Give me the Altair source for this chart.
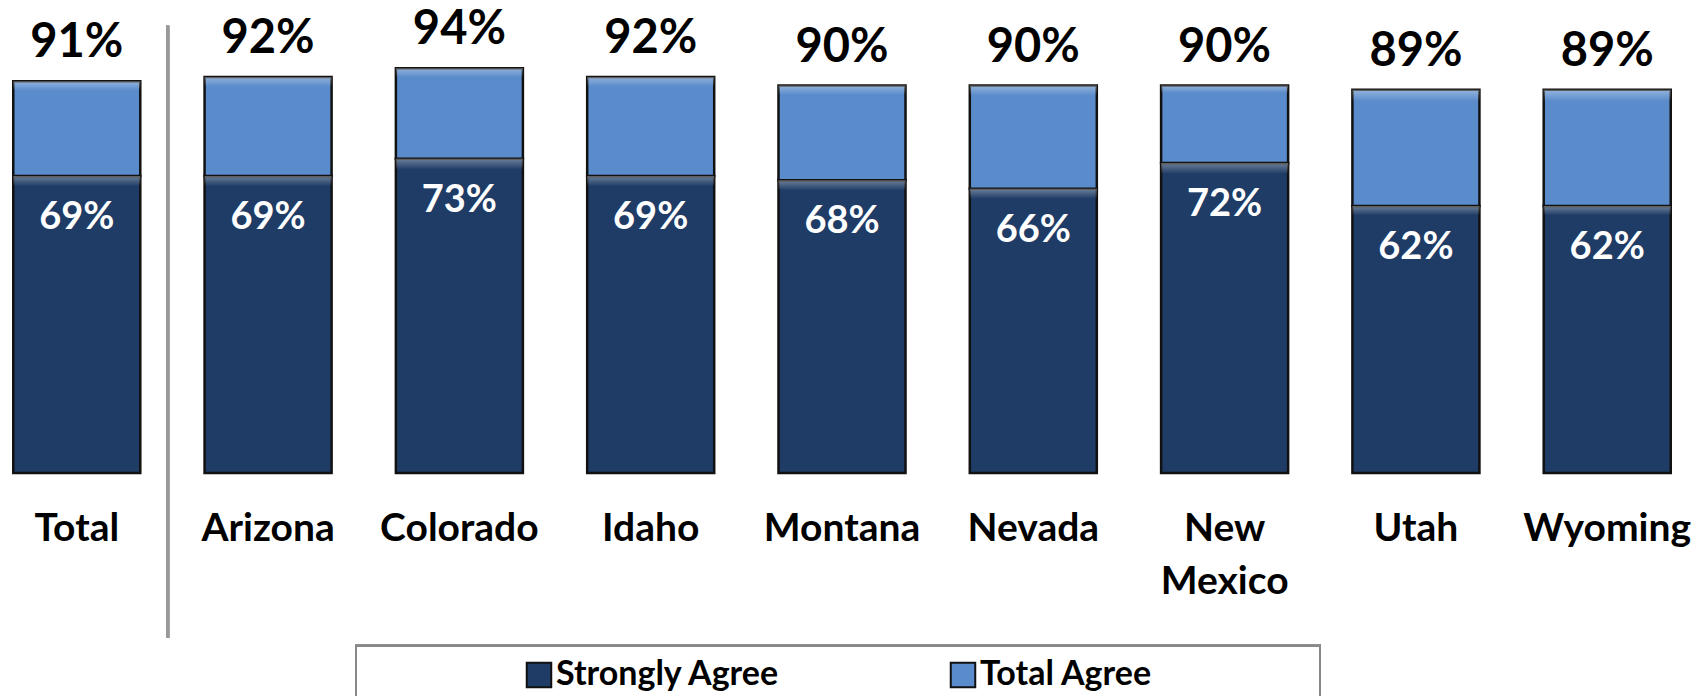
import altair as alt
import pandas as pd

categories = ["Total", "Arizona", "Colorado", "Idaho", "Montana", "Nevada", "New Mexico", "Utah", "Wyoming"]
strongly_agree = [69, 69, 73, 69, 68, 66, 72, 62, 62]
total_agree = [91, 92, 94, 92, 90, 90, 90, 89, 89]
series = ["Strongly Agree", "Total Agree"]
colors = ["#1F3C66", "#5A8BCB"]

rows = []
for c, sa, ta in zip(categories, strongly_agree, total_agree):
    rows.append({"cat": c, "series": series[0], "y0": 0, "y1": sa})
    rows.append({"cat": c, "series": series[1], "y0": sa, "y1": ta})
df = pd.DataFrame(rows)
lab = pd.DataFrame({"cat": categories, "sa": strongly_agree, "ta": total_agree,
                    "sa_l": [f"{v}%" for v in strongly_agree],
                    "ta_l": [f"{v}%" for v in total_agree]})

FONT = "Lato"

x = alt.X("cat:N", sort=categories,
          scale=alt.Scale(paddingInner=0.336, paddingOuter=0.0275),
          axis=alt.Axis(title=None, domain=False, ticks=False, tickSize=0,
                        labelFontSize=39, labelFont=FONT, labelFontWeight="bold",
                        labelColor="black", labelPadding=36, labelAngle=0,
                        labelLineHeight=53, labelLimit=400,
                        labelExpr="split(datum.label, ' ')"))
yscale = alt.Scale(domain=[0, 108], nice=False, zero=True)

bars = alt.Chart(df).mark_bar(stroke="#111111", strokeWidth=2.5).encode(
    x=x,
    y=alt.Y("y0:Q", scale=yscale, axis=None),
    y2="y1:Q",
    color=alt.Color("series:N", scale=alt.Scale(domain=series, range=colors),
                    legend=alt.Legend(title=None, orient="none", legendX=514, legendY=650,
                                      direction="horizontal", columnPadding=165,
                                      symbolType="square", symbolSize=600,
                                      symbolStrokeColor="#111111", symbolStrokeWidth=2,
                                      labelFontSize=34, labelFont=FONT, labelFontWeight="bold",
                                      labelColor="black", labelOffset=0, padding=0,
                                      labelLimit=400)),
)


def bevel(name, frac):
    grad = {"gradient": "linear", "x1": 0, "y1": 0, "x2": 0, "y2": 1,
            "stops": [{"offset": 0, "color": "rgba(255,255,255,0.35)"},
                      {"offset": frac, "color": "rgba(255,255,255,0.0)"},
                      {"offset": 1, "color": "rgba(255,255,255,0.0)"}]}
    return alt.Chart(df).transform_filter(alt.datum.series == name).mark_bar(
        fill=grad, strokeWidth=0).encode(
        x=alt.X("cat:N", sort=categories),
        y=alt.Y("y1:Q", scale=yscale),
        y2="y0:Q",
    )


top_text = alt.Chart(lab).mark_text(font=FONT, fontWeight="bold", fontSize=47,
                                    baseline="alphabetic", dy=-24, color="black").encode(
    x=alt.X("cat:N", sort=categories),
    y=alt.Y("ta:Q", scale=yscale),
    text="ta_l:N",
)
inner_text = alt.Chart(lab).mark_text(font=FONT, fontWeight="bold", fontSize=38,
                                      baseline="alphabetic", dy=53, color="white").encode(
    x=alt.X("cat:N", sort=categories),
    y=alt.Y("sa:Q", scale=yscale),
    text="sa_l:N",
)

sep = alt.Chart(lab).mark_rule(color="#999999", strokeWidth=3).encode(
    x=alt.value(159.7), y=alt.value(17.7), y2=alt.value(630)
)
box = alt.Chart(lab).mark_rect(fill=None, fillOpacity=0, stroke="#888888", strokeWidth=2).encode(
    x=alt.value(348), x2=alt.value(1312), y=alt.value(637.7), y2=alt.value(720)
)

chart = alt.layer(bars, bevel(series[0], 0.035), bevel(series[1], 0.1),
                  top_text, inner_text, sep, box).properties(
    width=1668, height=465,
    autosize=alt.AutoSizeParams(type="none"),
    padding={"left": 0, "top": 0, "right": 16, "bottom": 223},
).configure(background="white", view=alt.ViewConfig(stroke=None))

chart.save("out.html", embed_options={"renderer": "svg", "actions": False})
